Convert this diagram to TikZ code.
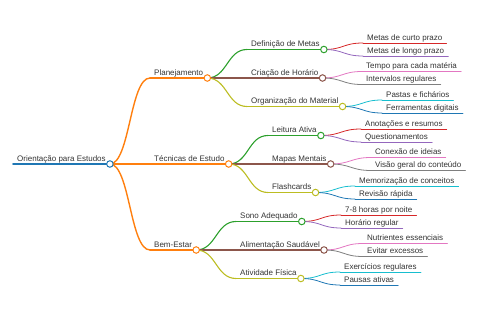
\documentclass[tikz,border=0pt]{standalone}
\usepackage{fontspec}
\setmainfont{Liberation Sans}
\usepackage{xcolor}
\definecolor{mmblue}{HTML}{1F77B4}
\definecolor{mmorange}{HTML}{FF7F0E}
\definecolor{mmgreen}{HTML}{2CA02C}
\definecolor{mmred}{HTML}{D62728}
\definecolor{mmpurple}{HTML}{9467BD}
\definecolor{mmbrown}{HTML}{8C564B}
\definecolor{mmpink}{HTML}{E377C2}
\definecolor{mmgray}{HTML}{7F7F7F}
\definecolor{mmolive}{HTML}{BCBD22}
\definecolor{mmcyan}{HTML}{17BECF}
\begin{document}
\begin{tikzpicture}[
    x=1pt, y=-1pt,
    topic/.style={
      anchor=south west, inner xsep=4pt, inner ysep=0pt,
      text height=6pt, text depth=2.6pt, text=black!80,
      font=\fontsize{8}{9.6}\selectfont
    },
    knob/.style={circle, fill=white, line width=1pt, inner sep=0pt, minimum size=6.5pt},
    link/.style={line width=#1, line cap=round}
  ]
    \useasboundingbox (0,0) rectangle (480,320);

    % root and first level
    \node[topic] (root) at (13,164) {Orientação para Estudos};
    \node[topic] (plan) at (150,78) {Planejamento};
    \node[topic] (tec) at (150,164) {Técnicas de Estudo};
    \node[topic] (bem) at (150,250) {Bem-Estar};

    % second level
    \node[topic] (def) at (247,49.5) {Definição de Metas};
    \node[topic] (cri) at (247,78) {Criação de Horário};
    \node[topic] (org) at (247,106.5) {Organização do Material};
    \node[topic] (lei) at (268,135.5) {Leitura Ativa};
    \node[topic] (map) at (268,164) {Mapas Mentais};
    \node[topic] (fla) at (268,192.5) {Flashcards};
    \node[topic] (sono) at (236,221.5) {Sono Adequado};
    \node[topic] (ali) at (236,250) {Alimentação Saudável};
    \node[topic] (ati) at (236,278.5) {Atividade Física};

    % leaves
    \node[topic] (curto) at (363,43) {Metas de curto prazo};
    \node[topic] (longo) at (363,56) {Metas de longo prazo};
    \node[topic] (tempo) at (362,71.5) {Tempo para cada matéria};
    \node[topic] (interv) at (362,84.5) {Intervalos regulares};
    \node[topic] (pastas) at (382,100) {Pastas e fichários};
    \node[topic] (ferr) at (382,113) {Ferramentas digitais};
    \node[topic] (anot) at (361,129) {Anotações e resumos};
    \node[topic] (quest) at (361,142) {Questionamentos};
    \node[topic] (conex) at (371,157.5) {Conexão de ideias};
    \node[topic] (visao) at (371,170.5) {Visão geral do conteúdo};
    \node[topic] (memo) at (355,186) {Memorização de conceitos};
    \node[topic] (rev) at (355,199) {Revisão rápida};
    \node[topic] (horas) at (341,215) {7-8 horas por noite};
    \node[topic] (horreg) at (341,228) {Horário regular};
    \node[topic] (nutr) at (363,243.5) {Nutrientes essenciais};
    \node[topic] (evit) at (363,256.5) {Evitar excessos};
    \node[topic] (exerc) at (340,272) {Exercícios regulares};
    \node[topic] (pausa) at (340,285) {Pausas ativas};

    % underlines
    \draw[link=1.6pt, mmblue] (root.south west) -- (root.south east);
    \foreach \n/\c/\w in {plan/mmorange/1.4, tec/mmorange/1.4, bem/mmorange/1.4,
        def/mmgreen/1.1, cri/mmbrown/1.1, org/mmolive/1.1,
        lei/mmgreen/1.1, map/mmbrown/1.1, fla/mmolive/1.1,
        sono/mmgreen/1.1, ali/mmbrown/1.1, ati/mmolive/1.1,
        curto/mmred/0.8, longo/mmpurple/0.8, tempo/mmpink/0.8, interv/mmgray/0.8,
        pastas/mmcyan/0.8, ferr/mmblue/0.8, anot/mmred/0.8, quest/mmpurple/0.8,
        conex/mmpink/0.8, visao/mmgray/0.8, memo/mmcyan/0.8, rev/mmblue/0.8,
        horas/mmred/0.8, horreg/mmpurple/0.8, nutr/mmpink/0.8, evit/mmgray/0.8,
        exerc/mmcyan/0.8, pausa/mmblue/0.8}
      \draw[link=\w pt, \c] (\n.south west) -- (\n.south east);

    % connectors
    \foreach \a/\b/\c/\w in {root/plan/mmorange/1.4, root/tec/mmorange/1.4, root/bem/mmorange/1.4,
        plan/def/mmgreen/1.1, plan/cri/mmbrown/1.1, plan/org/mmolive/1.1,
        tec/lei/mmgreen/1.1, tec/map/mmbrown/1.1, tec/fla/mmolive/1.1,
        bem/sono/mmgreen/1.1, bem/ali/mmbrown/1.1, bem/ati/mmolive/1.1,
        def/curto/mmred/0.8, def/longo/mmpurple/0.8, cri/tempo/mmpink/0.8, cri/interv/mmgray/0.8,
        org/pastas/mmcyan/0.8, org/ferr/mmblue/0.8, lei/anot/mmred/0.8, lei/quest/mmpurple/0.8,
        map/conex/mmpink/0.8, map/visao/mmgray/0.8, fla/memo/mmcyan/0.8, fla/rev/mmblue/0.8,
        sono/horas/mmred/0.8, sono/horreg/mmpurple/0.8, ali/nutr/mmpink/0.8, ali/evit/mmgray/0.8,
        ati/exerc/mmcyan/0.8, ati/pausa/mmblue/0.8}
      \draw[link=\w pt, \c] (\a.south east) .. controls +(20,0) and +(-20,0) .. (\b.south west);

    % knobs on topics with children
    \foreach \n/\c in {root/mmblue, plan/mmorange, tec/mmorange, bem/mmorange,
        def/mmgreen, cri/mmbrown, org/mmolive, lei/mmgreen, map/mmbrown, fla/mmolive,
        sono/mmgreen, ali/mmbrown, ati/mmolive}
      \node[knob, draw=\c] (\n-knob) at (\n.south east) {};
  \end{tikzpicture}
\end{document}
